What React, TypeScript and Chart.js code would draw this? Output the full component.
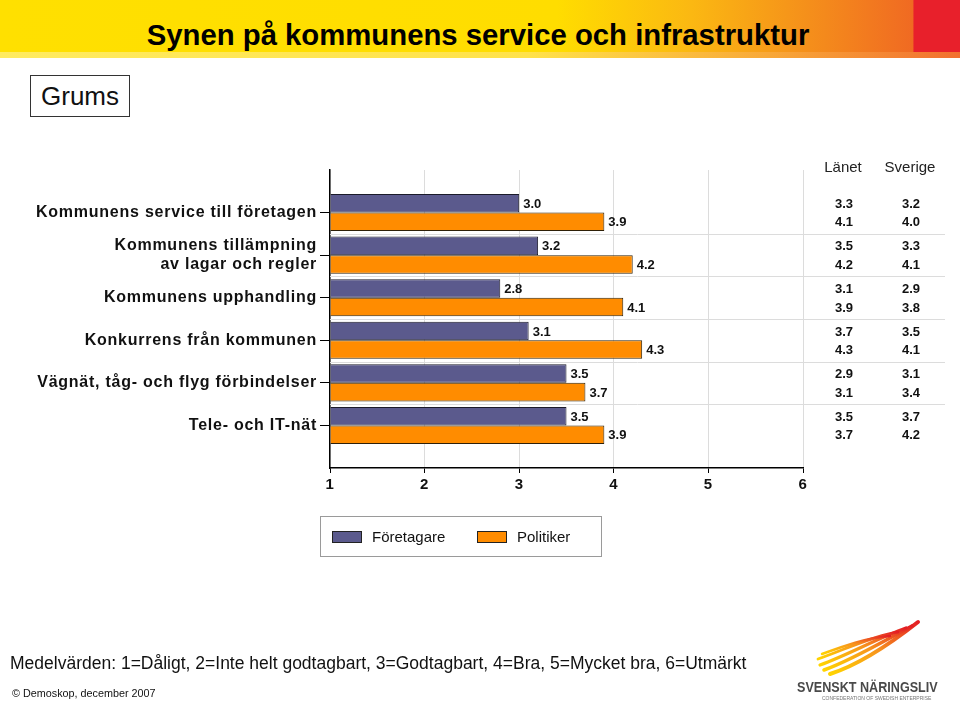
import React, { useEffect, useRef } from "react";
import { Chart, registerables } from "chart.js";

Chart.register(...registerables);

const categories: (string | string[])[] = [
  "Kommunens service till företagen",
  ["Kommunens tillämpning", "av lagar och regler"],
  "Kommunens upphandling",
  "Konkurrens från kommunen",
  "Vägnät, tåg- och flyg förbindelser",
  "Tele- och IT-nät",
];
const seriesNames = ["Företagare", "Politiker"];
const foretagare = [3.0, 3.2, 2.8, 3.1, 3.5, 3.5];
const politiker = [3.9, 4.2, 4.1, 4.3, 3.7, 3.9];
const tableHeaders = ["Länet", "Sverige"];
const lanetForetagare = [3.3, 3.5, 3.1, 3.7, 2.9, 3.5];
const lanetPolitiker = [4.1, 4.2, 3.9, 4.3, 3.1, 3.7];
const sverigeForetagare = [3.2, 3.3, 2.9, 3.5, 3.1, 3.7];
const sverigePolitiker = [4.0, 4.1, 3.8, 4.1, 3.4, 4.2];
const xMin = 1;
const xMax = 6;

const FONT = "'Liberation Sans', Arial, Helvetica, sans-serif";
const BLUE = "#5B5A8D";
const ORANGE = "#FF8C00";

const spacing = {
  id: "spacing",
  beforeDraw(chart: any) {
    chart.ctx.letterSpacing = "0.75px";
  },
  beforeDatasetsDraw(chart: any) {
    chart.ctx.letterSpacing = "0px";
  },
};

const valueLabels = {
  id: "valueLabels",
  afterDatasetsDraw(chart: any) {
    const ctx = chart.ctx;
    ctx.save();
    ctx.font = `bold 13px ${FONT}`;
    ctx.fillStyle = "#111";
    ctx.textBaseline = "middle";
    ctx.textAlign = "left";
    chart.data.datasets.forEach((ds: any, di: number) => {
      const meta = chart.getDatasetMeta(di);
      meta.data.forEach((bar: any, i: number) => {
        const v = ds.data[i].x;
        ctx.fillText(v.toFixed(1), bar.x + 4, bar.y + 1);
      });
    });
    ctx.restore();
  },
};

const sideTable = {
  id: "sideTable",
  beforeDatasetsDraw(chart: any) {
    const { ctx, chartArea, scales } = chart;
    ctx.save();
    ctx.strokeStyle = "#dcdcdc";
    ctx.lineWidth = 1;
    for (let i = 0; i < categories.length - 1; i++) {
      const y = Math.round(scales.y.getPixelForValue(i + 0.5)) + 0.5;
      ctx.beginPath();
      ctx.moveTo(chartArea.left, y);
      ctx.lineTo(945, y);
      ctx.stroke();
    }
    ctx.restore();
  },
  afterDatasetsDraw(chart: any) {
    const { ctx } = chart;
    const cols = [843, 910];
    ctx.save();
    ctx.textAlign = "center";
    ctx.textBaseline = "middle";
    ctx.fillStyle = "#222";
    ctx.font = `15px ${FONT}`;
    tableHeaders.forEach((h, k) => ctx.fillText(h, cols[k], 168));
    ctx.font = `bold 13px ${FONT}`;
    ctx.fillStyle = "#111";
    const m0 = chart.getDatasetMeta(0);
    const m1 = chart.getDatasetMeta(1);
    for (let i = 0; i < categories.length; i++) {
      const y0 = m0.data[i].y + 1;
      const y1 = m1.data[i].y + 1;
      ctx.fillText(lanetForetagare[i].toFixed(1), cols[0] + 1, y0);
      ctx.fillText(lanetPolitiker[i].toFixed(1), cols[0] + 1, y1);
      ctx.fillText(sverigeForetagare[i].toFixed(1), cols[1] + 1, y0);
      ctx.fillText(sverigePolitiker[i].toFixed(1), cols[1] + 1, y1);
    }
    ctx.restore();
  },
};

function ChartCanvas() {
  const ref = useRef<HTMLCanvasElement | null>(null);
  useEffect(() => {
    if (!ref.current) return;
    Chart.defaults.font.family = FONT;
    const mk = (vals: number[]) => vals.map((v, i) => ({ x: v, y: i }));
    const chart = new Chart(ref.current, {
      type: "bar",
      data: {
        datasets: [
          {
            label: seriesNames[0],
            data: mk(foretagare),
            backgroundColor: BLUE,
            borderColor: "#1b1b2a",
            borderWidth: 1,
            base: xMin,
            categoryPercentage: 0.87,
            barPercentage: 1,
          },
          {
            label: seriesNames[1],
            data: mk(politiker),
            backgroundColor: ORANGE,
            borderColor: "#2e2008",
            borderWidth: 1,
            base: xMin,
            categoryPercentage: 0.87,
            barPercentage: 1,
          },
        ] as any,
      },
      options: {
        indexAxis: "y",
        responsive: false,
        animation: false,
        layout: { padding: { top: 170, right: 157, bottom: 204, left: 0 } },
        plugins: {
          legend: { display: false },
          tooltip: { enabled: false },
          title: { display: false },
        },
        scales: {
          x: {
            type: "linear",
            position: "bottom",
            min: xMin,
            max: xMax,
            offset: false,
            afterFit: (s: any) => {
              s.height = 30;
            },
            ticks: {
              stepSize: 1,
              color: "#111",
              padding: 3,
              font: { size: 15, weight: "bold", family: FONT },
            },
            grid: {
              offset: false,
              color: "#dcdcdc",
              tickColor: "#000",
              tickLength: 5,
              lineWidth: 1,
            },
            border: { color: "#000", width: 1.5 },
          },
          y: {
            type: "linear",
            position: "left",
            reverse: true,
            offset: false,
            min: -1,
            max: categories.length,
            afterFit: (s: any) => {
              s.width = 330;
            },
            ticks: {
              stepSize: 1,
              autoSkip: false,
              color: "#111",
              padding: 3,
              font: { size: 16, weight: "bold", family: FONT, lineHeight: 1.2 },
              callback: (v: any) => {
                const c = categories[v as number];
                return c === undefined ? "" : c;
              },
            },
            grid: {
              offset: false,
              drawOnChartArea: false,
              tickLength: 10,
              tickColor: (c: any) =>
                c.tick && c.tick.value >= 0 && c.tick.value < categories.length
                  ? "#000"
                  : "rgba(0,0,0,0)",
            },
            border: { color: "#000", width: 1.5 },
          },
        },
      } as any,
      plugins: [spacing, sideTable, valueLabels],
    });
    return () => chart.destroy();
  }, []);
  return (
    <canvas
      ref={ref}
      width={960}
      height={702}
      style={{ position: "absolute", left: 0, top: 0, width: 960, height: 702 }}
    />
  );
}

function Logo() {
  const feathers = [
    "M30 56 C 55 48, 85 30, 118 4",
    "M24 52 C 52 42, 82 24, 112 8",
    "M20 47 C 48 37, 78 20, 106 10",
    "M18 41 C 44 32, 72 18, 98 14",
    "M22 36 C 44 28, 66 20, 90 18",
  ];
  return (
    <div style={{ position: "absolute", left: 790, top: 618, width: 160, height: 84 }}>
      <svg width={150} height={62} style={{ position: "absolute", left: 10, top: 0 }}>
        <defs>
          <linearGradient id="wg" x1="0" y1="1" x2="1" y2="0">
            <stop offset="0" stopColor="#FFD400" />
            <stop offset="0.5" stopColor="#F7941D" />
            <stop offset="1" stopColor="#E31E24" />
          </linearGradient>
        </defs>
        {feathers.map((d, i) => (
          <path key={i} d={d} stroke="url(#wg)" strokeWidth={4 - i * 0.4} fill="none" strokeLinecap="round" />
        ))}
      </svg>
      <div
        style={{
          position: "absolute",
          left: 7,
          top: 60,
          fontFamily: FONT,
          fontWeight: "bold",
          fontSize: 15,
          color: "#4a4a4a",
          whiteSpace: "nowrap",
          transform: "scaleX(0.84)",
          transformOrigin: "left top",
        }}
      >
        SVENSKT NÄRINGSLIV
      </div>
      <div
        style={{
          position: "absolute",
          left: 32,
          top: 77,
          fontFamily: FONT,
          fontSize: 5,
          color: "#777",
          whiteSpace: "nowrap",
        }}
      >
        CONFEDERATION OF SWEDISH ENTERPRISE
      </div>
    </div>
  );
}

export default function App() {
  return (
    <div
      style={{
        position: "fixed",
        left: 0,
        top: 0,
        width: 960,
        height: 702,
        background: "#fff",
        overflow: "hidden",
        fontFamily: FONT,
      }}
    >
      <div
        style={{
          position: "absolute",
          left: 0,
          top: 0,
          width: 960,
          height: 58,
          background:
            "linear-gradient(90deg, #FFE000 0%, #FFDD00 58%, #FBB812 72%, #F4891C 86%, #F06A22 95.1%, #E8202B 95.2%, #E8202B 100%)",
        }}
      />
      <div
        style={{
          position: "absolute",
          left: 0,
          top: 52,
          width: 960,
          height: 6,
          background: "linear-gradient(90deg, #FFEB60 0%, #FFE24A 55%, #F8A838 80%, #F27030 100%)",
        }}
      />
      <div
        style={{
          position: "absolute",
          left: 0,
          top: 16,
          width: 956,
          textAlign: "center",
          fontFamily: FONT,
          fontWeight: "bold",
          fontSize: 29.3,
          lineHeight: "38px",
          color: "#000",
          whiteSpace: "nowrap",
        }}
      >
        Synen på kommunens service och infrastruktur
      </div>
      <div
        style={{
          position: "absolute",
          left: 30,
          top: 75,
          width: 100,
          height: 42,
          border: "1.5px solid #333",
          boxSizing: "border-box",
          fontFamily: FONT,
          fontSize: 26,
          lineHeight: "40px",
          textAlign: "center",
          color: "#111",
        }}
      >
        Grums
      </div>
      <ChartCanvas />
      <div
        style={{
          position: "absolute",
          left: 320,
          top: 516,
          width: 282,
          height: 41,
          border: "1px solid #9a9a9a",
          boxSizing: "border-box",
          fontSize: 15,
          color: "#111",
        }}
      >
        {seriesNames.map((n, i) => (
          <div key={n} style={{ position: "absolute", left: i === 0 ? 11 : 156, top: 12, display: "flex", alignItems: "center" }}>
            <div
              style={{
                width: 30,
                height: 12,
                background: i === 0 ? BLUE : ORANGE,
                border: "1px solid #222",
                boxSizing: "border-box",
                marginRight: 10,
              }}
            />
            <span style={{ lineHeight: "16px" }}>{n}</span>
          </div>
        ))}
      </div>
      <div
        style={{
          position: "absolute",
          left: 10,
          top: 652,
          fontFamily: FONT,
          fontSize: 17.5,
          color: "#111",
          whiteSpace: "nowrap",
          lineHeight: "22px",
        }}
      >
        Medelvärden: 1=Dåligt, 2=Inte helt godtagbart, 3=Godtagbart, 4=Bra, 5=Mycket bra, 6=Utmärkt
      </div>
      <div
        style={{
          position: "absolute",
          left: 12,
          top: 686,
          fontFamily: FONT,
          fontSize: 10.8,
          color: "#111",
          whiteSpace: "nowrap",
          lineHeight: "14px",
        }}
      >
        © Demoskop, december 2007
      </div>
      <Logo />
    </div>
  );
}
